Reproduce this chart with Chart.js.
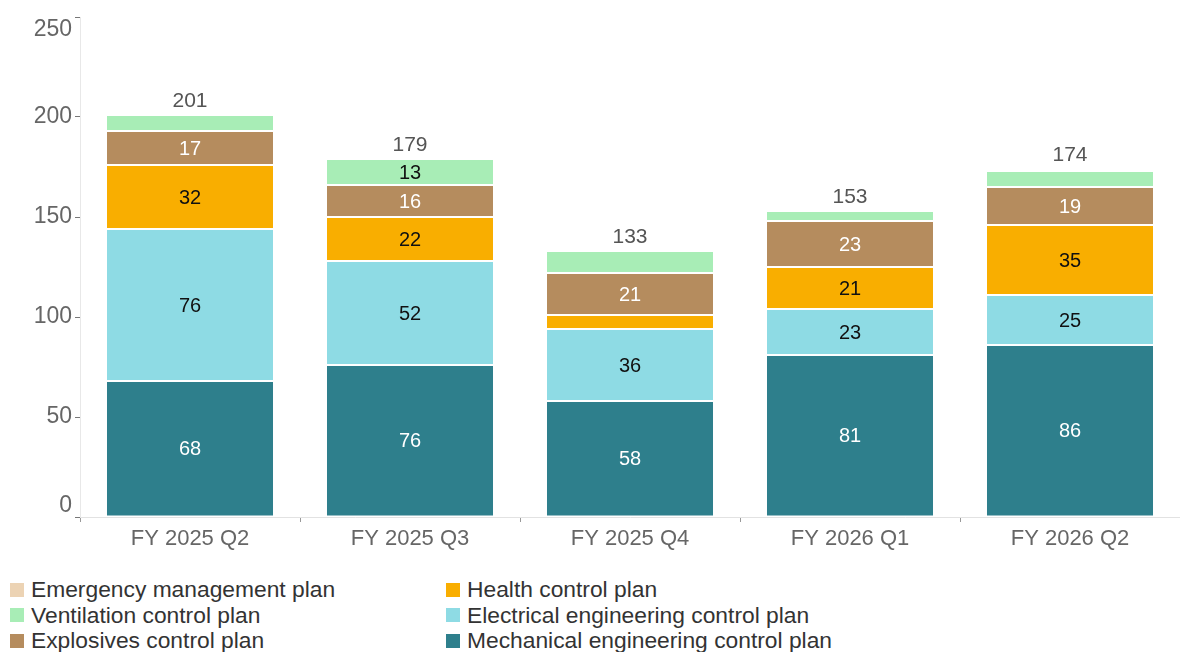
<!DOCTYPE html>
<html>
<head>
<meta charset="utf-8">
<script src="https://cdn.jsdelivr.net/npm/chart.js@4.4.1/dist/chart.umd.min.js"></script>
<style>
    body { margin: 0; background: #fff; font-family: "Liberation Sans", Arial, sans-serif; }
    #wrap { position: relative; width: 1180px; height: 560px; }
    #legend {
        display: grid; grid-auto-flow: column;
        grid-template-rows: repeat(3, 25.5px); grid-template-columns: 436px auto;
        padding-left: 10px; margin-top: 17px;
    }
    .item { display: flex; align-items: center; font-size: 22.8px; color: #333; white-space: nowrap; }
    .box { width: 14px; height: 14px; margin-right: 7px; flex: none; }
</style>
</head>
<body>
<div id="wrap"><canvas id="chart"></canvas></div>
<div id="legend"></div>
<script>
// Quarters and plan counts (bottom of the stack first)
const quarters = ['FY 2025 Q2', 'FY 2025 Q3', 'FY 2025 Q4', 'FY 2026 Q1', 'FY 2026 Q2'];
const mechanical  = [68, 76, 58, 81, 86];
const electrical  = [76, 52, 36, 23, 25];
const health      = [32, 22, 7, 21, 35];
const explosives  = [17, 16, 21, 23, 19];
const ventilation = [8, 13, 11, 5, 8];
const emergency   = [0, 0, 0, 0, 1];
const yTicks = [0, 50, 100, 150, 200, 250];

const series = [
    { label: 'Mechanical engineering control plan', data: mechanical, color: '#2e7f8c', text: '#ffffff' },
    { label: 'Electrical engineering control plan', data: electrical, color: '#8edbe4', text: '#111111' },
    { label: 'Health control plan', data: health, color: '#f9ae00', text: '#111111' },
    { label: 'Explosives control plan', data: explosives, color: '#b58c5e', text: '#ffffff' },
    { label: 'Ventilation control plan', data: ventilation, color: '#a8edb6', text: '#111111' },
    { label: 'Emergency management plan', data: emergency, color: '#ecd3b4', text: '#111111' }
];

const FONT = '"Liberation Sans", Arial, sans-serif';

// segment values inside bars + totals above each stack
const stackLabels = {
    id: 'stackLabels',
    afterDatasetsDraw(chart) {
        const ctx = chart.ctx;
        ctx.save();
        ctx.textAlign = 'center';
        ctx.textBaseline = 'middle';
        ctx.font = '20px ' + FONT;
        chart.data.datasets.forEach((ds, i) => {
            chart.getDatasetMeta(i).data.forEach((bar, j) => {
                const v = ds.data[j];
                if (!v || Math.abs(bar.base - bar.y) < 24) return;
                ctx.fillStyle = ds.labelColor;
                ctx.fillText(v, bar.x, (bar.y + bar.base) / 2 + 1);
            });
        });
        ctx.font = '21px ' + FONT;
        ctx.fillStyle = '#555';
        ctx.textBaseline = 'bottom';
        const first = chart.getDatasetMeta(0).data;
        quarters.forEach((q, j) => {
            const total = series.reduce((s, d) => s + d.data[j], 0);
            const y = chart.scales.y.getPixelForValue(total);
            ctx.fillText(total, first[j].x, y - 3);
        });
        ctx.restore();
    }
};

// y labels drawn by hand so the end labels sit inside the axis range
const yLabels = {
    id: 'yLabels',
    afterDraw(chart) {
        const ctx = chart.ctx, y = chart.scales.y;
        ctx.save();
        ctx.font = '23px ' + FONT;
        ctx.fillStyle = '#666';
        ctx.textAlign = 'right';
        ctx.textBaseline = 'middle';
        yTicks.forEach(v => {
            let py = y.getPixelForValue(v);
            if (v === y.max) py += 13;
            if (v === y.min) py -= 11;
            ctx.fillText(v, y.right - 8, py);
        });
        ctx.restore();
    }
};

const chart = new Chart(document.getElementById('chart'), {
    type: 'bar',
    data: {
        labels: quarters,
        datasets: series.map(s => ({
            label: s.label,
            data: s.data,
            backgroundColor: s.color,
            borderColor: '#ffffff',
            borderWidth: { top: 1, bottom: 1 },
            borderSkipped: false,
            labelColor: s.text,
            barPercentage: 0.755,
            categoryPercentage: 1
        }))
    },
    options: {
        responsive: true, maintainAspectRatio: false, animation: false,
        layout: { padding: { top: 17, left: 0, right: 0, bottom: 0 } },
        plugins: { legend: { display: false }, tooltip: { enabled: false } },
        scales: {
            x: {
                stacked: true,
                grid: { drawOnChartArea: false, color: '#999', tickLength: 5, offset: true },
                border: { color: '#e2e2e2' },
                ticks: { color: '#666', font: { family: FONT, size: 22 }, padding: 4 },
                afterFit: s => { s.height = 43; }
            },
            y: {
                stacked: true, min: 0, max: 250,
                afterBuildTicks: s => { s.ticks = yTicks.map(v => ({ value: v })); },
                grid: { drawOnChartArea: false, color: '#777', tickLength: 5 },
                border: { color: '#e8e8e8' },
                ticks: { display: false },
                afterFit: s => { s.width = 80; }
            }
        }
    },
    plugins: [stackLabels, yLabels]
});

// legend: top of the stack first, three rows per column
const legend = document.getElementById('legend');
chart.data.datasets.slice().reverse().forEach(ds => {
    const item = document.createElement('div');
    item.className = 'item';
    item.innerHTML = `<span class="box" style="background:${ds.backgroundColor}"></span>${ds.label}`;
    legend.appendChild(item);
});
</script>
</body>
</html>
